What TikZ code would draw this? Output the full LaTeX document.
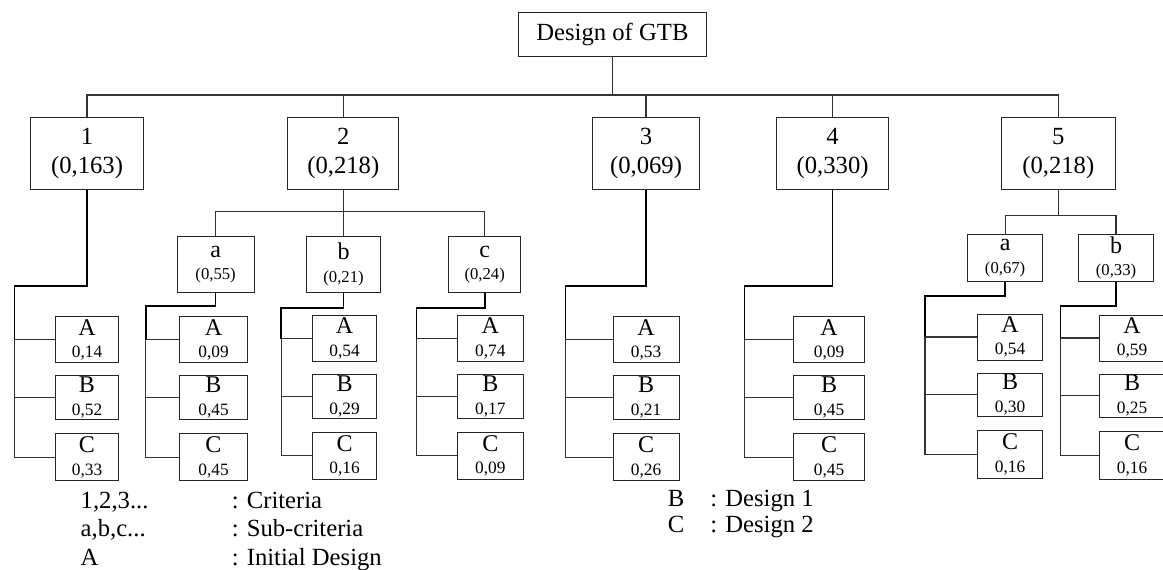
\documentclass[tikz,border=0pt]{standalone}
\usepackage{fontspec}
\setmainfont{Liberation Serif}
\newcommand\leafnum{\fontsize{13}{17}\selectfont}
\newcommand\subnum{\fontsize{12.5}{17}\selectfont}
\newcommand\leafgroup[7]{%
  \node[leaf, minimum width=#3, minimum height=34.5pt] (#1A) at (#2,#4) {A\\{\leafnum #5}};
  \node[leaf, minimum width=#3, minimum height=32.5pt] (#1B) at (#2,#4+57.8) {B\\{\leafnum #6}};
  \node[leaf, minimum width=#3, minimum height=35.5pt] (#1C) at (#2,#4+117.4) {C\\{\leafnum #7}};
}
\begin{document}
\begin{tikzpicture}[x=0.75pt,y=-0.75pt,
  box/.style={draw=black!85, line width=0.7pt, inner sep=0pt, align=center},
  main/.style={box, font=\fontsize{18.5}{22}\selectfont},
  sub/.style={box, font=\fontsize{18}{17}\selectfont},
  leaf/.style={box, font=\fontsize{18}{17}\selectfont},
  conn/.style={line width=0.8pt, draw=black!80},
  drop/.style={line width=1.3pt, draw=black},
  legend/.style={font=\fontsize{18.5}{20}\selectfont, anchor=base west, inner sep=0pt}
]
\useasboundingbox (0,0) rectangle (1163,570);
\clip (0,0) rectangle (1163,570);

% top and criteria
\node[main, minimum width=140.7pt, minimum height=32.5pt] (T) at (612.4,34.4) {Design of GTB};
\node[main, minimum width=84.75pt, minimum height=54pt] (B1) at (87,153.3) {1\\(0,163)};
\node[main, minimum width=83.25pt, minimum height=54pt] (B2) at (343.3,153.3) {2\\(0,218)};
\node[main, minimum width=80pt, minimum height=54pt] (B3) at (646,153.3) {3\\(0,069)};
\node[main, minimum width=84.2pt, minimum height=54pt] (B4) at (832.6,153.3) {4\\(0,330)};
\node[main, minimum width=85.1pt, minimum height=54pt] (B5) at (1058.3,153.3) {5\\(0,218)};

\coordinate (busy) at (0,95);
\draw[conn] (T.south) -- (T.south |- busy);
\draw[conn] (B1.north) -- (B1.north |- busy) -- (B5.north |- busy) -- (B5.north);
\draw[conn] (B2.north) -- (B2.north |- busy);
\draw[conn] (B3.north) -- (B3.north |- busy);
\draw[conn] (B4.north) -- (B4.north |- busy);

% sub-criteria
\node[sub, minimum width=57.75pt, minimum height=41.7pt] (S2a) at (215.6,264.5) {a\\{\subnum (0,55)}};
\node[sub, minimum width=56pt, minimum height=41.7pt] (S2b) at (343.5,264.5) {b\\{\subnum (0,21)}};
\node[sub, minimum width=54.3pt, minimum height=41.7pt] (S2c) at (484.7,264.5) {c\\{\subnum (0,24)}};
\node[sub, minimum width=56.1pt, minimum height=35.1pt] (S5a) at (1005.1,257.9) {a\\{\subnum (0,67)}};
\node[sub, minimum width=56.1pt, minimum height=35.1pt] (S5b) at (1116,257.9) {b\\{\subnum (0,33)}};

\coordinate (s2y) at (0,211.7);
\draw[conn] (B2.south) -- (B2.south |- s2y);
\draw[conn] (S2a.north) -- (S2a.north |- s2y) -- (S2c.north |- s2y) -- (S2c.north);
\draw[conn] (S2b.north) -- (S2b.north |- s2y);
\coordinate (s5y) at (0,215.8);
\draw[conn] (B5.south) -- (B5.south |- s5y);
\draw[conn] (S5a.north) -- (S5a.north |- s5y) -- (S5b.north |- s5y) -- (S5b.north);

% alternatives
\leafgroup{g1}{87}{47.6pt}{339.8}{0,14}{0,52}{0,33}
\leafgroup{g2a}{213.5}{51pt}{339.8}{0,09}{0,45}{0,45}
\leafgroup{g2b}{344.5}{47.6pt}{338.5}{0,54}{0,29}{0,16}
\leafgroup{g2c}{490.3}{49.5pt}{338.5}{0,74}{0,17}{0,09}
\leafgroup{g3}{646}{49.5pt}{339.8}{0,53}{0,21}{0,26}
\leafgroup{g4}{829}{52.8pt}{339.8}{0,09}{0,45}{0,45}
\leafgroup{g5a}{1010}{49pt}{337}{0,54}{0,30}{0,16}
\leafgroup{g5b}{1132}{49.5pt}{338}{0,59}{0,25}{0,16}

\coordinate (eg1) at (14.4,285.7);
\coordinate (eg2a) at (145.8,306);
\coordinate (eg2b) at (281.3,308.3);
\coordinate (eg2c) at (416.4,308.3);
\coordinate (eg3) at (565.4,285.7);
\coordinate (eg4) at (744.6,285.7);
\coordinate (eg5a) at (925,295.7);
\coordinate (eg5b) at (1060.5,306);

\draw[drop] (B1.south) |- (eg1) -- (eg1 |- g1A.west);
\draw[drop] (S2a.south) |- (eg2a) -- (eg2a |- g2aA.west);
\draw[drop] (S2b.south) |- (eg2b) -- (eg2b |- g2bA.west);
\draw[drop] (S2c.south) |- (eg2c) -- (eg2c |- g2cA.west);
\draw[drop] (B3.south) |- (eg3) -- (eg3 |- g3A.west);
\draw[drop] (B4.south) |- (eg4) -- (eg4 |- g4A.west);
\draw[drop] (S5a.south) |- (eg5a) -- (eg5a |- g5aA.west);
\draw[drop] (S5b.south) |- (eg5b) -- (eg5b |- g5bA.west);

\foreach \g in {g1,g2a,g2b,g2c,g3,g4,g5a,g5b}{
  \draw[conn] (e\g |- \g A.west) |- (\g C.west);
  \draw[conn] (\g A.west) -- (\g A.west -| e\g);
  \draw[conn] (\g B.west) -- (\g B.west -| e\g);
}

% legend
\node[legend] (L1) at (80.4,508.3) {1,2,3...};
\node[legend] (L1d) at (231.5,508.3) {: Criteria};
\node[legend] (L2) at (80.4,536.7) {a,b,c...};
\node[legend] (L2d) at (231.5,536.7) {: Sub-criteria};
\node[legend] (L3) at (80.4,565) {A};
\node[legend] (L3d) at (231.5,565) {: Initial Design};
\node[legend] (L4) at (667.7,506.7) {B};
\node[legend] (L4d) at (710,506.7) {: Design 1};
\node[legend] (L5) at (667.7,532.3) {C};
\node[legend] (L5d) at (710,532.3) {: Design 2};
\end{tikzpicture}
\end{document}
